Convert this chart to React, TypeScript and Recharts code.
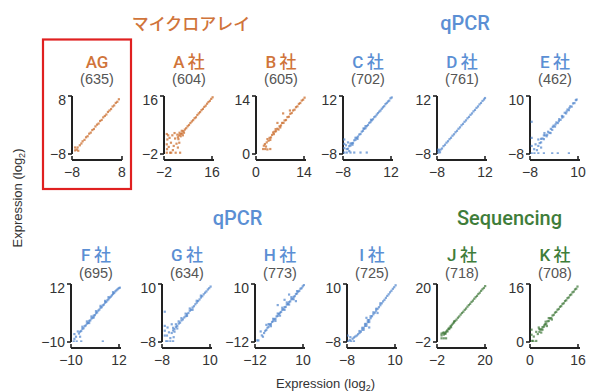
import { ReferenceLine, Scatter, ScatterChart, XAxis, YAxis } from 'recharts';

type Pt = [number, number];

const panelNames = ['AG', 'A\u2009社', 'B\u2009社', 'C\u2009社', 'D\u2009社', 'E\u2009社', 'F\u2009社', 'G\u2009社', 'H\u2009社', 'I\u2009社', 'J\u2009社', 'K\u2009社'];
const panelCounts = [635, 604, 605, 702, 761, 462, 695, 634, 773, 725, 718, 708];
// same range on both axes of each panel
const panelRanges: Pt[] = [
  [-8, 8], [-2, 16], [0, 14], [-8, 12], [-8, 12], [-8, 10],
  [-10, 12], [-8, 10], [-12, 10], [-8, 10], [-2, 20], [0, 16],
];
const panelPlatform = ['array', 'array', 'array', 'qpcr', 'qpcr', 'qpcr', 'qpcr', 'qpcr', 'qpcr', 'qpcr', 'seq', 'seq'];

const agPoints: Pt[] = [
  [-7, -7], [-6.5, -6.8], [-7, -6.2], [-6, -7.1], [-6.2, -6.2], [-5.5, -5.6], [-5, -5.1], [-4.6, -4.5],
  [-4, -4.1], [-3.5, -3.4], [-3, -3.1], [-2.5, -2.4], [-2, -2.1], [-1.5, -1.4], [-1, -1.1], [-0.5, -0.4],
  [0, 0.1], [0.5, 0.4], [1, 1.1], [1.5, 1.4], [2, 2.1], [2.5, 2.5], [3, 2.9], [3.5, 3.6], [4, 4],
  [4.5, 4.4], [5, 5.1], [5.5, 5.4], [6, 6.1], [6.5, 6.4], [7, 7.1],
];
const aPoints: Pt[] = [
  [4, 4.2], [4.5, 4.4], [5, 5.1], [5.5, 5.6], [6, 6], [6.5, 6.6], [7, 7], [7.5, 7.6], [8, 8.1], [8.5, 8.5],
  [9, 9.1], [9.5, 9.4], [10, 10.1], [10.5, 10.6], [11, 11], [11.5, 11.6], [12, 12], [12.5, 12.6], [13, 13],
  [13.5, 13.6], [14, 14.1], [14.5, 14.5], [15, 15.1], [15.5, 15.6],
  [3.5, 3.8], [4, 3.5], [3.6, 4.6], [4.4, 5.2], [5.2, 4.6], [3, 3.2], [2.8, 4], [4.8, 3.8], [3.2, 2.6],
  [-1, 4.2], [-0.8, 2.5], [-1, 1], [-0.9, -0.5], [-1, -1.6], [0, 3], [0.5, 1.5], [1, 3.8], [1.5, 0.5],
  [2, 2.8], [2.2, -1.6], [0.2, -1.6], [1.2, -0.8], [2.5, 1.2], [-0.3, 0.2], [3, 0], [3.5, 1.5], [1.8, 4.5],
  [0.6, -1.6], [-0.5, 3.8], [3.8, -1.6],
];
const bPoints: Pt[] = [
  [3, 2.8], [3.5, 3.2], [3.8, 3.9], [4.2, 4], [4.5, 4.6], [5, 4.8], [5.2, 5.4], [5.6, 5.5], [6, 6.1],
  [6.3, 5.9], [6.6, 6.7], [7, 6.9], [7.3, 7.5], [7.7, 7.5], [8, 8.1], [8.4, 8.2], [8.8, 8.9], [9.2, 9],
  [9.6, 9.7], [10, 9.9], [10.4, 10.5], [10.8, 10.7], [11.2, 11.3], [11.6, 11.5], [12, 12.1], [12.4, 12.3],
  [12.8, 12.9], [13.2, 13.1], [13.6, 13.6],
  [4, 3.4], [4.8, 5.2], [5.5, 6], [6.8, 6.4], [2.5, 2.4], [3.2, 3.6],
  [2, 1.2], [2.6, 1.2], [3.2, 1.1], [4, 1.2], [2.2, 2], [7.6, 9.8], [6, 7.5], [9.5, 10.5], [2.8, 1.8],
];
const cPoints: Pt[] = [
  [-6.5, -6.3], [-6, -6.2], [-5.5, -5.3], [-5, -5.1], [-4.5, -4.3], [-4, -4.2], [-3.5, -3.3], [-3, -3.1],
  [-2.5, -2.4], [-2, -2], [-1.5, -1.3], [-1, -1.1], [-0.5, -0.3], [0, 0], [0.5, 0.7], [1, 0.9], [1.5, 1.6],
  [2, 2], [2.5, 2.7], [3, 3], [3.5, 3.6], [4, 4], [4.5, 4.7], [5, 5], [5.5, 5.6], [6, 6.1], [6.5, 6.6],
  [7, 7], [7.5, 7.6], [8, 8.1], [8.5, 8.5], [9, 9.2], [9.5, 9.6], [10, 10.1], [10.5, 10.4], [11, 11.2], [11.5, 11.5],
  [-5, -4.4], [-4.2, -4.8], [-3, -2.4], [-2.2, -2.8], [0.2, 0.8], [1, 1.6], [3.2, 3.8],
  [-7.5, -7.5], [-7.5, -6], [-7.5, -4.5], [-7.5, -3], [-6.5, -7.5], [-5, -7.5], [-3.5, -7.5], [-1, -7.5],
  [1.5, -7.5], [-6.8, -5], [-6, -4], [-5.5, -7],
];
const dPoints: Pt[] = [
  [-6.6, -6.5], [-6, -6.1], [-5.4, -5.3], [-4.8, -4.8], [-4.2, -4.1], [-3.6, -3.6], [-3, -2.9], [-2.4, -2.4],
  [-1.8, -1.7], [-1.2, -1.2], [-0.6, -0.5], [0, 0], [0.6, 0.7], [1.2, 1.2], [1.8, 1.9], [2.4, 2.4], [3, 3.1],
  [3.6, 3.6], [4.2, 4.3], [4.8, 4.8], [5.4, 5.5], [6, 6], [6.6, 6.7], [7.2, 7.2], [7.8, 7.9], [8.4, 8.4],
  [9, 9.1], [9.6, 9.6], [10.2, 10.3], [10.8, 10.8], [11.2, 11.3],
  [-7.5, -7.5], [-7.2, -6.8], [-7.5, -6.5], [-6.8, -7.4],
];
const ePoints: Pt[] = [
  [-5, -5.5], [-4.5, -4.6], [-4, -4.4], [-3.5, -3.2], [-3, -3.4], [-2.5, -2.2], [-2, -2.5], [-1.5, -1.1],
  [-1, -1.4], [-0.5, -0.2], [0, -0.5], [0.5, 0.8], [1, 0.5], [1.5, 1.8], [2, 1.6], [2.5, 2.8], [3, 2.6],
  [3.5, 3.8], [4, 3.6], [4.5, 4.8], [5, 4.6], [5.5, 5.8], [6, 5.6], [6.5, 6.8], [7, 6.7], [7.5, 7.7],
  [8, 7.8], [8.5, 8.7], [8.8, 8.9],
  [-4, -3.3], [-3, -2.2], [-1.8, -2], [0.2, 0.4], [1.2, 1.2], [2.4, 2.2], [3.6, 3.3], [5.2, 5.2], [6.2, 6.3],
  [-2.8, -1.5], [-0.6, -1.5],
  [-7.4, 2], [-7.4, -3], [-7.4, -5.5], [-7.4, -7.8], [-6.4, -7.8], [-5, -7.8], [-3, -7.8], [0, -7.8],
  [2, -7.8], [6, -7.8], [-6, -5], [-5.5, -6.8], [-6.5, -6.5], [-4, -6], [-5, -3.5],
];
const fPoints: Pt[] = [
  [-6.5, -6.8], [-6, -6.1], [-5.5, -5.8], [-5, -5], [-4.5, -4.8], [-4, -4], [-3.5, -3.7], [-3, -3],
  [-2.5, -2.8], [-2, -2], [-1.5, -1.8], [-1, -1.1], [-0.5, -0.8], [0, 0], [0.5, 0.2], [1, 0.9], [1.5, 1.2],
  [2, 1.9], [2.5, 2.3], [3, 3], [3.5, 3.2], [4, 3.9], [4.5, 4.2], [5, 4.9], [5.5, 5.2], [6, 5.8], [6.5, 6.2],
  [7, 6.8], [7.5, 7.2], [8, 7.7], [8.5, 8.2], [9, 8.6], [9.5, 9.2], [10, 9.6], [10.5, 10], [11, 10.4], [11.5, 10.6],
  [-5, -4.2], [-3, -2.2], [-1, -0.3], [1, 1.7], [3, 3.7], [5, 5.6], [6.5, 7], [8.5, 8.9], [-2, -2.8], [0, -0.7],
  [-8.8, -9.8], [-7.5, -9.8], [-5.5, -9.8], [4, -9.8], [-8.5, -7], [-7.8, -8], [-7, -6], [-8.5, -8.8], [-6, -8],
];
const gPoints: Pt[] = [
  [-4.5, -5.2], [-4, -4.4], [-3.5, -4], [-3, -3.3], [-2.5, -3], [-2, -2.3], [-1.5, -2], [-1, -1.3],
  [-0.5, -1], [0, -0.4], [0.5, 0], [1, 0.6], [1.5, 1], [2, 1.7], [2.5, 2], [3, 2.7], [3.5, 3.1], [4, 3.7],
  [4.5, 4.2], [5, 4.7], [5.5, 5.2], [6, 5.8], [6.5, 6.2], [7, 6.8], [7.5, 7.3], [8, 7.7], [8.5, 8.3],
  [9, 8.7], [9.5, 9.2],
  [-4, -3.6], [-3, -2.5], [-2, -1.6], [-1, -0.6], [0.5, 0.8], [2, 2.4], [-3.5, -4.8], [-2.5, -3.8],
  [1, 0.1], [3, 2], [4.5, 4.8], [6, 6.4],
  [-7, 1.4], [-7, -3], [-7, -4.5], [-7, -6], [-6.5, -7.8], [-6, -7.8], [-5, -7.8], [-4, -7.8], [-6, -3.5],
  [-5.5, -5], [-6.2, -6], [-5, -6.8], [-4.5, -2.5], [-3.8, -6.5],
];
const hPoints: Pt[] = [
  [-8, -8.6], [-7.5, -7.8], [-7, -7.4], [-6.5, -6.6], [-6, -6.2], [-5.5, -5.4], [-5, -5.2], [-4.5, -4.4],
  [-4, -4.1], [-3.5, -3.4], [-3, -3.2], [-2.5, -2.3], [-2, -2.1], [-1.5, -1.4], [-1, -0.9], [-0.5, -0.6],
  [0, 0.2], [0.5, 0.4], [1, 1.2], [1.5, 1.3], [2, 2.2], [2.5, 2.4], [3, 3.1], [3.5, 3.4], [4, 4.2],
  [4.5, 4.4], [5, 5.1], [5.5, 5.4], [6, 6.2], [6.5, 6.4], [7, 7.1], [7.5, 7.4], [8, 8.2], [8.5, 8.4],
  [9, 9.1], [9.5, 9.6],
  [-6, -5.2], [-4, -3.2], [-2, -1.2], [0, 1], [2, 3], [4, 5], [-5, -6], [-3, -4], [-1, -2], [1, 0.2],
  [3, 2.2], [5, 4.2], [6.5, 7.3],
  [-11, -11.4], [-10.5, -11.4], [-9, -9.5], [-9.5, -8], [-8.5, -10], [-7, -5.5], [-2, 2], [1, 4], [3, 6], [6, 3.5],
];
const iPoints: Pt[] = [
  [-7.5, -7.8], [-7, -7.4], [-6.5, -7.8], [-6, -7], [-5.5, -6.6], [-5, -6.3], [-4.5, -6], [-4, -5.6],
  [-3.5, -5.2], [-3, -4.8], [-2.5, -4.2], [-2, -3.6], [-1.5, -3], [-1, -2.4], [-0.5, -1.8], [0, -1.2],
  [0.5, -0.6], [1, 0], [1.5, 0.6], [2, 1.1], [2.5, 1.7], [3, 2.3], [3.5, 2.8], [4, 3.4], [4.5, 4], [5, 4.6],
  [5.5, 5.1], [6, 5.7], [6.5, 6.3], [7, 6.8], [7.5, 7.4], [8, 7.9], [8.5, 8.5], [9, 9], [9.5, 9.6],
  [-2.5, -3.6], [-1.5, -2.4], [-0.5, -1.2], [0.5, 0], [1.5, 1.2], [-2, -4.2], [-1, -3], [0, -1.8],
  [2.5, 2.3], [4, 4], [-3.5, -4.6],
  [-7.8, -6], [-6.8, -6.5], [-5.5, -7.8], [0, -3.5], [-1, -0.5], [3, 1],
];
const jPoints: Pt[] = [
  [1, 0.8], [1.5, 1.2], [2, 1.9], [2.5, 2.4], [3, 3], [3.5, 3.4], [4, 4], [4.5, 4.5], [5, 5], [5.5, 5.4],
  [6, 6], [6.6, 6.5], [7.2, 7.2], [7.8, 7.7], [8.4, 8.4], [9, 9], [9.6, 9.5], [10.2, 10.2], [10.8, 10.7],
  [11.4, 11.4], [12, 12], [12.6, 12.5], [13.2, 13.2], [13.8, 13.7], [14.4, 14.4], [15, 15], [15.6, 15.5],
  [16.2, 16.2], [16.8, 16.7], [17.4, 17.4], [18, 18], [18.6, 18.5], [19.2, 19.2],
  [1.8, 1.2], [2.6, 2], [3.4, 2.9], [1.2, 1.6], [4.2, 3.6], [5.5, 5.8],
  [0, 0.5], [0, -0.6], [1, -0.6], [0.6, 1.5], [0, 1.2], [2, -0.6],
];
const kPoints: Pt[] = [
  [2.5, 2.2], [3, 2.8], [3.3, 3.4], [3.7, 3.5], [4, 4.1], [4.4, 4.2], [4.8, 4.9], [5.2, 5], [5.6, 5.7],
  [6, 5.8], [6.4, 6.5], [6.8, 6.6], [7.2, 7.3], [7.6, 7.5], [8, 8.1], [8.4, 8.3], [8.8, 8.9], [9.2, 9.1],
  [9.6, 9.7], [10, 9.9], [10.4, 10.5], [10.8, 10.7], [11.2, 11.3], [11.6, 11.5], [12, 12.1], [12.4, 12.3],
  [12.8, 12.9], [13.2, 13.1], [13.6, 13.7], [14, 13.9], [14.4, 14.5], [14.8, 14.7], [15.2, 15.3],
  [3, 3.6], [4, 3.4], [5, 5.6], [4.6, 4.6], [3.6, 2.6], [2.8, 4], [6, 6.6], [7, 6.2], [5.4, 4.4],
  [0.6, 0.3], [1, 0.3], [2, 0.3], [0.5, 2], [0.5, 3.4], [1.2, 1.5], [2, 2.8], [1.5, -0.2],
];

const panelPoints = [agPoints, aPoints, bPoints, cPoints, dPoints, ePoints, fPoints, gPoints, hPoints, iPoints, jPoints, kPoints];

const TITLE_COLOR: Record<string, string> = { array: '#d0743a', qpcr: '#5b8fd4', seq: '#3f7d3a' };
const DOT_COLOR: Record<string, string> = { array: '#c8641f', qpcr: '#4d83cc', seq: '#3a7535' };
const AXIS = '#222';
const SANS = '"Liberation Sans", Arial, sans-serif';
const TITLE_FONT = 'Roboto, "Noto Sans CJK JP", sans-serif';

// y-axis x position of each panel, and the row geometry
const ROWS = [
  { lefts: [72, 164, 256, 343, 437, 530], top: 96, titleY: 67.5, countY: 84 },
  { lefts: [71, 162, 255, 347, 437, 530], top: 284, titleY: 261, countY: 278 },
];
const PLOT_W = 50;
const PLOT_H = 58;
const GAP = 6;
const Y_W = 30;
const DOT = 2.2;

const fmt = (v: number) => String(v).replace('-', '\u2212');

const XTick = (props: any) => {
  const { x, y, payload } = props;
  const base = y - 4;
  return (
    <g>
      <line x1={x} x2={x} y1={base} y2={base - 4} stroke={AXIS} strokeWidth={1.6} />
      <text x={x} y={base + 17} textAnchor="middle" fontSize={14} fill="#333" fontFamily={SANS}>
        {fmt(payload.value)}
      </text>
    </g>
  );
};

function Panel({ index, left, top }: { index: number; left: number; top: number }) {
  const [lo, hi] = panelRanges[index];
  const color = DOT_COLOR[panelPlatform[index]];
  const data = panelPoints[index].map(([x, y]) => ({ x, y }));
  return (
    <div style={{ position: 'absolute', left: left - Y_W, top: top - 4 }}>
      <ScatterChart width={Y_W + PLOT_W + 6} height={4 + PLOT_H + GAP + 22} margin={{ top: 4, right: 6, bottom: 0, left: 0 }}>
        <XAxis
          type="number"
          dataKey="x"
          domain={[lo, hi]}
          ticks={[lo, hi]}
          allowDataOverflow
          height={22}
          axisLine={{ stroke: AXIS, strokeWidth: 2 }}
          tickLine={false}
          tickSize={2}
          tickMargin={2}
          tick={<XTick />}
        />
        <YAxis
          type="number"
          dataKey="y"
          domain={[lo, hi]}
          ticks={[lo, hi]}
          allowDataOverflow
          width={Y_W}
          padding={{ top: 0, bottom: GAP }}
          axisLine={false}
          tickLine={{ stroke: AXIS, strokeWidth: 1.6 }}
          tickSize={4}
          tickMargin={2}
          tick={{ fontSize: 14, fill: '#333', fontFamily: SANS }}
          tickFormatter={fmt}
        />
        <ReferenceLine
          segment={[{ x: lo, y: lo }, { x: lo, y: hi }]}
          stroke={AXIS}
          strokeWidth={2}
          ifOverflow="visible"
        />
        <Scatter
          data={data}
          isAnimationActive={false}
          shape={(p: any) => (
            <rect x={p.cx - DOT / 2} y={p.cy - DOT / 2} width={DOT} height={DOT} fill={color} fillOpacity={0.7} />
          )}
        />
      </ScatterChart>
    </div>
  );
}

export default function App() {
  const panels: { index: number; left: number; top: number; titleY: number; countY: number }[] = [];
  ROWS.forEach((row, r) => {
    row.lefts.forEach((left, c) => {
      panels.push({ index: r * 6 + c, left, top: row.top, titleY: row.titleY, countY: row.countY });
    });
  });

  return (
    <div style={{ position: 'absolute', left: 0, top: 0, width: 592, height: 392, background: '#fff' }}>
      {panels.map((p) => (
        <Panel key={p.index} index={p.index} left={p.left} top={p.top} />
      ))}
      <svg width={592} height={392} style={{ position: 'absolute', left: 0, top: 0, pointerEvents: 'none' }}>
        <text x={191} y={30} textAnchor="middle" fontSize={17} fontWeight={500} fill={TITLE_COLOR.array} fontFamily='"Noto Sans CJK JP", sans-serif'>
          マイクロアレイ
        </text>
        <text x={465} y={29.5} textAnchor="middle" fontSize={20} fontWeight={500} fill={TITLE_COLOR.qpcr} fontFamily={TITLE_FONT}>
          qPCR
        </text>
        <text x={237.5} y={224.5} textAnchor="middle" fontSize={20} fontWeight={500} fill={TITLE_COLOR.qpcr} fontFamily={TITLE_FONT}>
          qPCR
        </text>
        <text x={509.5} y={224.5} textAnchor="middle" fontSize={20} fontWeight={500} fill={TITLE_COLOR.seq} fontFamily={TITLE_FONT}>
          Sequencing
        </text>
        {panels.map((p) => (
          <g key={p.index}>
            <text x={p.left + PLOT_W / 2} y={p.titleY} textAnchor="middle" fontSize={17} fontWeight={500} fill={TITLE_COLOR[panelPlatform[p.index]]} fontFamily={TITLE_FONT}>
              {panelNames[p.index]}
            </text>
            <text x={p.left + PLOT_W / 2} y={p.countY} textAnchor="middle" fontSize={14.5} fill="#555" fontFamily={SANS}>
              ({panelCounts[p.index]})
            </text>
          </g>
        ))}
        <text x={325.5} y={387.5} textAnchor="middle" fontSize={13} fill="#333" fontFamily={SANS}>
          Expression (log<tspan fontSize={9} dy={3}>2</tspan><tspan dy={-3}>)</tspan>
        </text>
        <text x={21.5} y={198} transform="rotate(-90 21.5 198)" textAnchor="middle" fontSize={13} fill="#333" fontFamily={SANS}>
          Expression (log<tspan fontSize={9} dy={3}>2</tspan><tspan dy={-3}>)</tspan>
        </text>
        <rect x={43} y={39.5} width={88} height={149.5} fill="none" stroke="#e02020" strokeWidth={2.2} />
      </svg>
    </div>
  );
}
